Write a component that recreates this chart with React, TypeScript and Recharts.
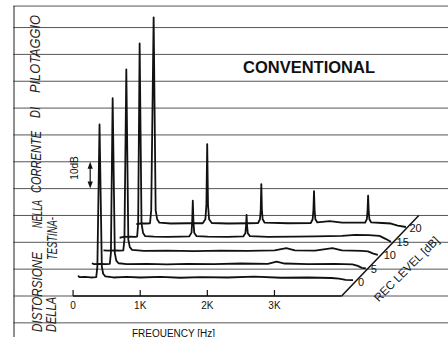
import React from 'react';
import {
  ComposedChart,
  Line,
  XAxis,
  YAxis,
  ReferenceLine,
  ReferenceDot,
} from 'recharts';

// ---------- data ----------
const REC_LEVELS = [0, 5, 10, 15, 20];
const FREQ_TICKS = [0, 1000, 2000, 3000];
const FREQ_TICK_LABELS = ['0', '1K', '2K', '3K'];
const GRID_DB = [-10, 0, 10, 20, 30, 40, 50, 60, 70, 80, 90, 100, 108];

// each trace: [frequency Hz, level dB] in its own (un-shifted) frame
const TRACE_0: [number, number][] = [
  [75, 7.6], [95, 7.0], [180, 7.1], [260, 6.9], [345, 7.0], [362, 11], [394, 63.9],
  [428, 11], [448, 8.3], [480, 7.3], [600, 6.9], [800, 7.1], [1000, 6.9], [1300, 7.1],
  [1600, 6.8], [1900, 7.0], [2300, 6.9], [2700, 7.2], [3100, 6.8], [3500, 6.9],
  [3850, 6.7], [3960, 6.5], [4060, 6.0], [4170, 5.9],
];
const TRACE_5: [number, number][] = [
  [78, 7.2], [110, 6.9], [200, 7.0], [290, 6.9], [345, 7.0], [362, 11], [388, 68.7],
  [420, 11], [442, 8.2], [475, 7.2], [600, 6.9], [900, 7.0], [1200, 6.8], [1500, 7.0],
  [1900, 6.9], [2300, 7.1], [2700, 7.0], [2830, 7.8], [2950, 7.1], [3300, 6.9],
  [3700, 7.0], [3960, 6.8], [4040, 6.2], [4100, 5.5], [4160, 5.3],
];
const TRACE_10: [number, number][] = [
  [50, 7.0], [120, 6.9], [220, 7.0], [300, 6.9], [345, 7.0], [362, 11], [390, 74.4],
  [420, 11], [442, 8.2], [475, 7.2], [650, 6.8], [1000, 6.9], [1400, 6.7], [1800, 6.9],
  [2200, 6.8], [2600, 7.0], [2774, 7.8], [2900, 7.0], [3200, 6.9], [3461, 7.8],
  [3600, 7.0], [3900, 6.8], [3990, 6.6], [4070, 5.8], [4137, 5.3],
];
const TRACE_15: [number, number][] = [
  [89, 6.7], [150, 7.0], [250, 7.1], [330, 7.0], [350, 7.2], [365, 12], [387, 79.1],
  [415, 12], [438, 8.5], [470, 7.3], [600, 7.1], [800, 7.0], [1000, 7.1], [1125, 7.2],
  [1160, 8.6], [1170, 13], [1179, 20.5], [1188, 13], [1200, 8.6], [1235, 7.3],
  [1400, 7.1], [1700, 7.0], [1930, 7.2], [1962, 8.4], [1972, 11], [1980, 15.2],
  [1988, 11], [1998, 8.4], [2030, 7.3], [2300, 7.0], [2700, 7.1], [3000, 7.2],
  [3400, 7.4], [3600, 7.8], [3800, 7.7], [3960, 7.4], [4050, 6.3], [4130, 5.2],
];
const TRACE_20: [number, number][] = [
  [136, 6.8], [200, 7.0], [280, 7.0], [340, 7.1], [358, 12], [394, 83.8], [424, 12],
  [446, 8.6], [480, 7.3], [650, 7.0], [900, 7.1], [1125, 7.1], [1165, 8.6], [1180, 14],
  [1192, 36.6], [1204, 14], [1220, 8.6], [1260, 7.2], [1500, 7.0], [1800, 7.1],
  [1950, 7.2], [1978, 8.6], [1989, 12], [1998, 21.7], [2007, 12], [2018, 8.6],
  [2048, 7.3], [2400, 7.1], [2735, 7.2], [2763, 8.6], [2774, 12], [2783, 19.1],
  [2792, 12], [2803, 8.6], [2832, 7.4], [3017, 7.9], [3200, 7.3], [3545, 7.3],
  [3570, 8.6], [3580, 11.5], [3589, 17.4], [3598, 11.5], [3608, 8.6], [3635, 7.4],
  [3800, 7.2], [3930, 7.0], [4030, 6.2], [4152, 5.7],
];
const TRACES = [TRACE_0, TRACE_5, TRACE_10, TRACE_15, TRACE_20];

// ---------- waterfall depth projection ----------
const DEPTH_HZ_PER_DB = 40.3; // each dB of rec level shifts a trace right
const DEPTH_DB_PER_DB = 1; // ...and up
const DIAG_START = { x: 4000, y: 0 };
const DIAG_END = { x: 5150, y: 30 };
const DIAG_SLOPE = (DIAG_END.x - DIAG_START.x) / (DIAG_END.y - DIAG_START.y);
const FRAME_LEFT_HZ = -880;

const projected = TRACES.map((t, i) =>
  t.map(([hz, db]) => ({
    x: hz + REC_LEVELS[i] * DEPTH_HZ_PER_DB,
    y: db + REC_LEVELS[i] * DEPTH_DB_PER_DB,
  })),
);

const FONT = '"Liberation Sans", Arial, sans-serif';
const INK = '#111';
const GRID = '#555';

const FreqTick = (props: any) => {
  const { x, y, payload } = props;
  const idx = FREQ_TICKS.indexOf(payload.value);
  return (
    <g>
      <line x1={x} x2={x} y1={y - 6} y2={y} stroke={INK} strokeWidth={1.2} />
      <text x={x} y={y + 12.5} textAnchor="middle" fontSize={10} fontFamily={FONT} fill={INK}>
        {FREQ_TICK_LABELS[idx]}
      </text>
    </g>
  );
};

const ArrowShape = (p: any) => {
  const { x1, y1, x2, y2 } = p;
  const x = (x1 + x2) / 2;
  const top = Math.min(y1, y2);
  const bot = Math.max(y1, y2);
  return (
    <g>
      <line x1={x} x2={x} y1={top + 4} y2={bot - 4} stroke={INK} strokeWidth={1.2} />
      <polygon points={`${x},${top} ${x - 2.6},${top + 7} ${x + 2.6},${top + 7}`} fill={INK} />
      <polygon points={`${x},${bot} ${x - 2.6},${bot - 7} ${x + 2.6},${bot - 7}`} fill={INK} />
    </g>
  );
};

const VText = ({ x, y, len, size, children }: any) => (
  <text
    transform={`translate(${x},${y}) rotate(-90)`}
    textAnchor="middle"
    dominantBaseline="central"
    fontSize={size}
    fontStyle="italic"
    fontFamily={FONT}
    fill="#222"
    textLength={len}
    lengthAdjust="spacingAndGlyphs"
  >
    {children}
  </text>
);

export default function App() {
  return (
    <div style={{ position: 'absolute', left: 0, top: 0, width: 448, height: 337, background: '#fff', overflow: 'hidden' }}>
      <ComposedChart width={448} height={337} margin={{ top: 5, right: 0, bottom: 0, left: 13 }}>
        <XAxis
          dataKey="x"
          type="number"
          domain={[-895, 5585]}
          allowDataOverflow
          ticks={FREQ_TICKS}
          interval={0}
          axisLine={false}
          tickLine={false}
          tickSize={0}
          tickMargin={0}
          height={41}
          tick={<FreqTick />}
        />
        <YAxis
          type="number"
          domain={[0, 108.4]}
          allowDataOverflow
          width={0}
          tick={false}
          axisLine={false}
          tickLine={false}
        />
        {GRID_DB.map((v) => (
          <ReferenceLine key={`g${v}`} y={v} stroke={GRID} strokeWidth={1} ifOverflow="visible" />
        ))}
        <ReferenceLine
          segment={[{ x: FRAME_LEFT_HZ, y: -20 }, { x: FRAME_LEFT_HZ, y: 108 }]}
          stroke="#444"
          strokeWidth={1.2}
          ifOverflow="visible"
        />
        <ReferenceLine segment={[{ x: 0, y: 0 }, { x: DIAG_START.x, y: 0 }]} stroke={INK} strokeWidth={1.5} ifOverflow="visible" />
        <ReferenceLine segment={[DIAG_START, DIAG_END]} stroke={INK} strokeWidth={1.5} ifOverflow="visible" />
        <ReferenceLine
          segment={[{ x: 255, y: 40 }, { x: 255, y: 50 }]}
          shape={ArrowShape}
          ifOverflow="visible"
        />
        {projected.map((d, i) => (
          <Line
            key={REC_LEVELS[i]}
            data={d}
            dataKey="y"
            type="linear"
            stroke={INK}
            strokeWidth={1.8}
            dot={false}
            activeDot={false}
            isAnimationActive={false}
            strokeLinejoin="round"
          />
        ))}
        {REC_LEVELS.map((L) => {
          const yv = L + 5.2;
          const xv = DIAG_START.x + yv * DIAG_SLOPE;
          return (
            <ReferenceDot
              key={`lbl${L}`}
              x={xv}
              y={yv}
              r={0}
              fill="none"
              stroke="none"
              ifOverflow="visible"
              label={{ value: String(L), position: 'right', offset: 3, fill: INK, fontSize: 11, fontFamily: FONT }}
            />
          );
        })}
      </ComposedChart>
      <svg
        width={448}
        height={337}
        style={{ position: 'absolute', left: 0, top: 0, pointerEvents: 'none' }}
      >
        <text x={309} y={73.3} textAnchor="middle" fontSize={16.5} fontWeight="bold" fontFamily={FONT} fill={INK}>
          CONVENTIONAL
        </text>
        <text x={173.5} y={337} textAnchor="middle" fontSize={10} fontFamily={FONT} fill={INK}>
          FREQUENCY [Hz]
        </text>
        <text
          transform="translate(406.5,269) rotate(-45)"
          textAnchor="middle"
          dominantBaseline="central"
          fontSize={11.5}
          fontFamily={FONT}
          fill={INK}
        >
          REC LEVEL [dB]
        </text>
        <text
          transform="translate(74,168) rotate(-90)"
          textAnchor="middle"
          dominantBaseline="central"
          fontSize={10}
          fontFamily={FONT}
          fill={INK}
        >
          10dB
        </text>
        <VText x={36} y={292} len={80} size={15}>DISTORSIONE</VText>
        <VText x={36} y={214} len={28} size={15}>NELLA</VText>
        <VText x={35} y={162} len={62} size={15}>CORRENTE</VText>
        <VText x={34} y={112.5} len={11} size={15}>DI</VText>
        <VText x={34} y={54} len={78} size={15}>PILOTAGGIO</VText>
        <VText x={51.5} y={238.5} len={43} size={14}>TESTINA-</VText>
        <VText x={51} y={314.5} len={35} size={14}>DELLA</VText>
      </svg>
    </div>
  );
}
